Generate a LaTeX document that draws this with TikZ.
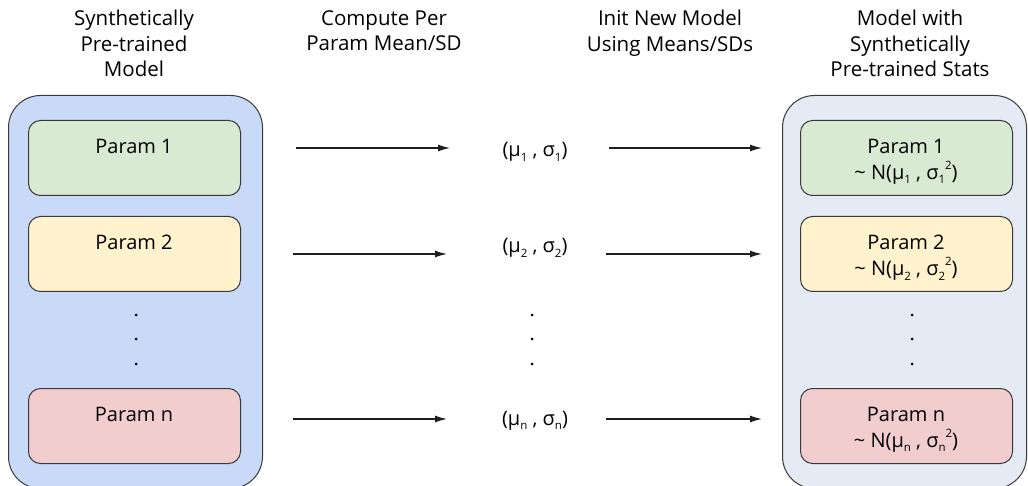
\documentclass[tikz,border=0pt]{standalone}
\usepackage{fontspec}
\setmainfont{Open Sans}
\usetikzlibrary{arrows.meta}
\definecolor{outerL}{HTML}{C9DAF8}
\definecolor{outerR}{HTML}{E4EBF5}
\definecolor{pgreen}{HTML}{D9EAD3}
\definecolor{pyellow}{HTML}{FFF2CC}
\definecolor{pred}{HTML}{F2CDCD}
\definecolor{edgec}{HTML}{3A3A3A}
\definecolor{arrc}{HTML}{1E1E1E}
\newcommand{\sbs}[1]{\raisebox{-0.22em}{\fontsize{11.5}{12}\selectfont #1}}
\newcommand{\sps}[1]{\raisebox{0.5em}{\fontsize{11.5}{12}\selectfont #1}}
\begin{document}
\begin{tikzpicture}[x=1pt,y=-1pt,
  outerbox/.style={draw=edgec, line width=1pt, rounded corners=32pt, anchor=north west, minimum height=393pt, inner sep=0pt},
  parambox/.style={draw=edgec, line width=1pt, rounded corners=12pt, anchor=north west, minimum width=212pt, minimum height=75pt, inner sep=0pt},
  hdr/.style={font=\fontsize{20.5}{25.5}\selectfont, align=center, anchor=north, inner sep=0pt},
  ptxt/.style={font=\fontsize{20}{26}\selectfont, align=center, anchor=north, inner sep=0pt},
  stat/.style={font=\fontsize{20}{24}\selectfont, anchor=base, inner sep=0pt},
  arr/.style={draw=arrc, line width=1.2pt, -{Latex[length=12pt,width=7pt]}},
  dotm/.style={circle, fill=black, inner sep=0pt, minimum size=3pt}
]
\useasboundingbox (0,0) rectangle (1028,486);
\fill[white] (0,0) rectangle (1028,486);

% headers
\node[hdr] (h1) at (134,10) {Synthetically\\Pre-trained\\Model};
\node[hdr] (h2) at (384,10) {Compute Per\\Param Mean/SD};
\node[hdr] (h3) at (670,10) {Init New Model\\Using Means/SDs};
\node[hdr] (h4) at (910,10) {Model with\\Synthetically\\Pre-trained Stats};

% left model
\node[outerbox, fill=outerL, minimum width=254pt] (ML) at (8,95) {};
\node[parambox, fill=pgreen] (L1) at (28,120) {};
\node[parambox, fill=pyellow] (L2) at (28,216) {};
\node[parambox, fill=pred] (Ln) at (28,388) {};
\node[ptxt] (L1t) at (134,139) {Param 1};
\node[ptxt] (L2t) at (134,235) {Param 2};
\node[ptxt] (Lnt) at (134,407) {Param n};
\node[dotm] (Ld1) at (136,315) {};
\node[dotm] (Ld2) at (136,339) {};
\node[dotm] (Ld3) at (136,364) {};

% right model
\node[outerbox, fill=outerR, minimum width=244pt] (MR) at (782,95) {};
\node[parambox, fill=pgreen] (R1) at (800,120) {};
\node[parambox, fill=pyellow] (R2) at (800,216) {};
\node[parambox, fill=pred] (Rn) at (800,388) {};
\node[ptxt] (R1t) at (906,139) {Param 1\\\textasciitilde\ N(μ\sbs{1} , σ\sbs{1}\sps{2})};
\node[ptxt] (R2t) at (906,235) {Param 2\\\textasciitilde\ N(μ\sbs{2} , σ\sbs{2}\sps{2})};
\node[ptxt] (Rnt) at (906,407) {Param n\\\textasciitilde\ N(μ\sbs{n} , σ\sbs{n}\sps{2})};
\node[dotm] (Rd1) at (912,315) {};
\node[dotm] (Rd2) at (912,339) {};
\node[dotm] (Rd3) at (912,364) {};

% statistics
\node[stat] (s1) at (535,157) {(μ\sbs{1} , σ\sbs{1})};
\node[stat] (s2) at (535,253) {(μ\sbs{2} , σ\sbs{2})};
\node[stat] (sn) at (535,425) {(μ\sbs{n} , σ\sbs{n})};
\node[dotm] (sd1) at (532,315) {};
\node[dotm] (sd2) at (532,339) {};
\node[dotm] (sd3) at (532,364) {};

% arrow ends
\coordinate (a1s) at (296,148); \coordinate (a1e) at (450,148);
\coordinate (b1s) at (609,148); \coordinate (b1e) at (762,148);
\coordinate (a2s) at (293,254); \coordinate (a2e) at (447,254);
\coordinate (b2s) at (606,254); \coordinate (b2e) at (762,254);
\coordinate (ans) at (293,419); \coordinate (ane) at (447,419);
\coordinate (bns) at (606,419); \coordinate (bne) at (762,419);

\draw[arr] (a1s) -- (a1e);
\draw[arr] (b1s) -- (b1e);
\draw[arr] (a2s) -- (a2e);
\draw[arr] (b2s) -- (b2e);
\draw[arr] (ans) -- (ane);
\draw[arr] (bns) -- (bne);
\end{tikzpicture}
\end{document}
